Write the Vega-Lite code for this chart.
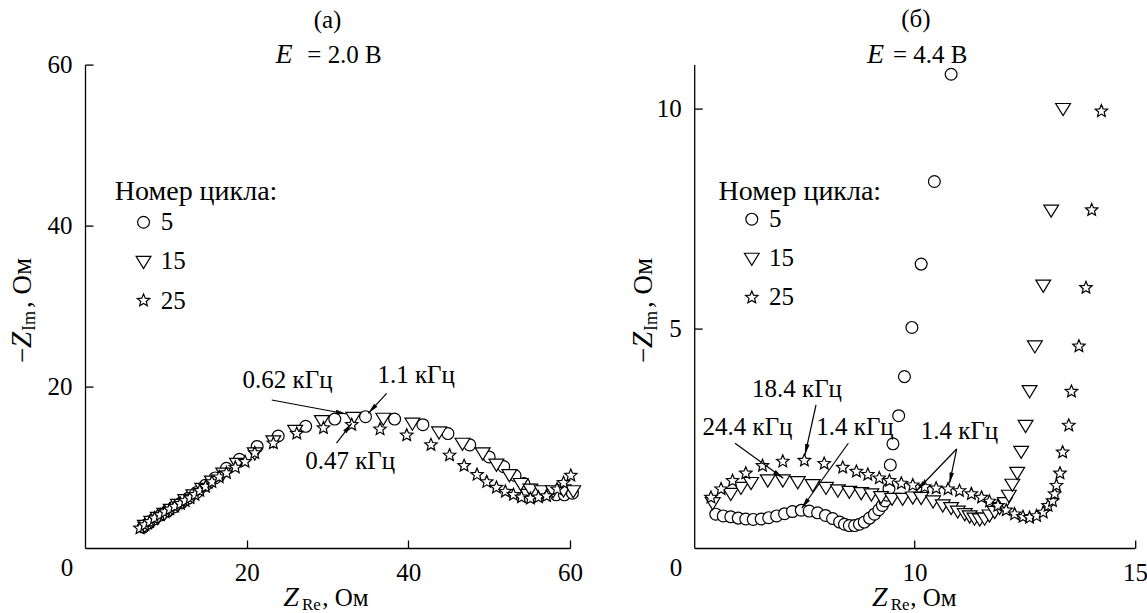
{
  "$schema": "https://vega.github.io/schema/vega-lite/v6.json",
  "autosize": {"type": "none"},
  "padding": {"left": 85, "top": 64.6, "right": 1062, "bottom": 548.4},
  "bounds": "flush",
  "spacing": 124.2,
  "config": {
    "view": {"stroke": null},
    "font": "Liberation Serif",
    "text": {"fontSize": 25, "color": "black", "font": "Liberation Serif"},
    "point": {"filled": true, "fill": "white", "stroke": "black", "strokeWidth": 1.2, "opacity": 1, "size": 140},
    "axis": {"domainColor": "black", "domainWidth": 1.3, "tickColor": "black", "tickWidth": 1.3, "tickSize": -8, "labelFontSize": 25, "labelColor": "black", "labelPadding": 21, "grid": false, "labelFont": "Liberation Serif", "labelFlush": false, "labelOverlap": false, "title": null}
  },
  "resolve": {"scale": {"shape": "independent"}},
  "datasets": {
    "a": [
      {"c":"5","x":7.2,"y":2.6},{"c":"5","x":7.9,"y":3.1},{"c":"5","x":8.6,"y":3.6},{"c":"5","x":9.4,"y":4.1},{"c":"5","x":10.2,"y":4.6},{"c":"5","x":11.0,"y":5.1},{"c":"5","x":11.9,"y":5.6},{"c":"5","x":12.8,"y":6.2},{"c":"5","x":13.8,"y":6.9},{"c":"5","x":14.9,"y":7.8},{"c":"5","x":16.1,"y":8.7},{"c":"5","x":17.5,"y":9.9},{"c":"5","x":19.1,"y":11.0},{"c":"5","x":21.3,"y":12.6},{"c":"5","x":23.9,"y":13.9},{"c":"5","x":27.3,"y":15.1},{"c":"5","x":30.9,"y":16.0},{"c":"5","x":34.7,"y":16.3},{"c":"5","x":38.3,"y":16.0},{"c":"5","x":41.8,"y":15.3},{"c":"5","x":44.9,"y":14.2},{"c":"5","x":47.6,"y":12.8},{"c":"5","x":50.0,"y":11.3},{"c":"5","x":51.8,"y":10.1},{"c":"5","x":53.2,"y":9.0},{"c":"5","x":54.3,"y":8.0},{"c":"5","x":55.5,"y":7.2},{"c":"5","x":56.9,"y":6.8},{"c":"5","x":58.3,"y":6.6},{"c":"5","x":59.3,"y":6.6},{"c":"5","x":60.3,"y":6.8},
      {"c":"15","x":7.4,"y":2.8},{"c":"15","x":8.2,"y":3.3},{"c":"15","x":9.0,"y":3.8},{"c":"15","x":9.8,"y":4.3},{"c":"15","x":10.6,"y":4.8},{"c":"15","x":11.5,"y":5.4},{"c":"15","x":12.4,"y":6.0},{"c":"15","x":13.4,"y":6.6},{"c":"15","x":14.5,"y":7.4},{"c":"15","x":15.7,"y":8.3},{"c":"15","x":17.1,"y":9.3},{"c":"15","x":18.8,"y":10.5},{"c":"15","x":21.0,"y":11.8},{"c":"15","x":23.3,"y":13.3},{"c":"15","x":26.0,"y":14.6},{"c":"15","x":29.3,"y":15.8},{"c":"15","x":33.2,"y":16.2},{"c":"15","x":36.9,"y":16.1},{"c":"15","x":40.5,"y":15.5},{"c":"15","x":43.8,"y":14.4},{"c":"15","x":46.7,"y":13.0},{"c":"15","x":49.2,"y":11.8},{"c":"15","x":50.9,"y":10.4},{"c":"15","x":52.5,"y":9.1},{"c":"15","x":53.9,"y":8.0},{"c":"15","x":55.1,"y":7.3},{"c":"15","x":56.5,"y":7.1},{"c":"15","x":57.9,"y":7.1},{"c":"15","x":59.2,"y":7.2},{"c":"15","x":60.4,"y":7.1},
      {"c":"25","x":6.8,"y":2.45},{"c":"25","x":7.4,"y":2.85},{"c":"25","x":8.0,"y":3.25},{"c":"25","x":8.6,"y":3.7},{"c":"25","x":9.3,"y":4.1},{"c":"25","x":9.9,"y":4.45},{"c":"25","x":10.5,"y":4.8},{"c":"25","x":11.1,"y":5.15},{"c":"25","x":11.8,"y":5.5},{"c":"25","x":12.4,"y":5.85},{"c":"25","x":13.0,"y":6.2},{"c":"25","x":13.6,"y":6.6},{"c":"25","x":14.2,"y":7.1},{"c":"25","x":14.9,"y":7.6},{"c":"25","x":15.7,"y":8.2},{"c":"25","x":16.6,"y":8.8},{"c":"25","x":17.5,"y":9.3},{"c":"25","x":18.6,"y":10.0},{"c":"25","x":19.8,"y":10.7},{"c":"25","x":21.0,"y":11.8},{"c":"25","x":23.3,"y":13.0},{"c":"25","x":26.2,"y":14.2},{"c":"25","x":29.5,"y":14.9},{"c":"25","x":33.0,"y":15.3},{"c":"25","x":36.5,"y":14.75},{"c":"25","x":39.8,"y":14.0},{"c":"25","x":42.8,"y":12.8},{"c":"25","x":45.1,"y":11.5},{"c":"25","x":46.9,"y":10.2},{"c":"25","x":48.5,"y":9.1},{"c":"25","x":49.7,"y":8.2},{"c":"25","x":50.9,"y":7.5},{"c":"25","x":52.0,"y":7.0},{"c":"25","x":53.0,"y":6.6},{"c":"25","x":54.0,"y":6.3},{"c":"25","x":55.1,"y":6.15},{"c":"25","x":56.1,"y":6.3},{"c":"25","x":57.1,"y":6.45},{"c":"25","x":58.4,"y":7.3},{"c":"25","x":59.2,"y":8.1},{"c":"25","x":60.1,"y":9.0}
    ],
    "b": [
      {"c":"5","x":5.49,"y":0.77},{"c":"5","x":5.66,"y":0.73},{"c":"5","x":5.83,"y":0.71},{"c":"5","x":6.0,"y":0.68},{"c":"5","x":6.17,"y":0.66},{"c":"5","x":6.34,"y":0.65},{"c":"5","x":6.52,"y":0.66},{"c":"5","x":6.69,"y":0.69},{"c":"5","x":6.87,"y":0.73},{"c":"5","x":7.05,"y":0.78},{"c":"5","x":7.23,"y":0.83},{"c":"5","x":7.43,"y":0.86},{"c":"5","x":7.61,"y":0.84},{"c":"5","x":7.8,"y":0.8},{"c":"5","x":7.98,"y":0.74},{"c":"5","x":8.14,"y":0.67},{"c":"5","x":8.3,"y":0.59},{"c":"5","x":8.41,"y":0.54},{"c":"5","x":8.52,"y":0.51},{"c":"5","x":8.64,"y":0.51},{"c":"5","x":8.75,"y":0.54},{"c":"5","x":8.86,"y":0.59},{"c":"5","x":8.98,"y":0.68},{"c":"5","x":9.09,"y":0.77},{"c":"5","x":9.19,"y":0.87},{"c":"5","x":9.27,"y":0.97},{"c":"5","x":9.33,"y":1.07},{"c":"5","x":9.38,"y":1.2},{"c":"5","x":9.42,"y":1.35},{"c":"5","x":9.45,"y":1.89},{"c":"5","x":9.51,"y":2.37},{"c":"5","x":9.64,"y":3.01},{"c":"5","x":9.77,"y":3.9},{"c":"5","x":9.94,"y":5.02},{"c":"5","x":10.15,"y":6.46},{"c":"5","x":10.45,"y":8.34},{"c":"5","x":10.83,"y":10.78},
      {"c":"15","x":5.42,"y":1.03},{"c":"15","x":5.83,"y":1.24},{"c":"15","x":6.06,"y":1.38},{"c":"15","x":6.29,"y":1.49},{"c":"15","x":6.67,"y":1.55},{"c":"15","x":7.01,"y":1.55},{"c":"15","x":7.35,"y":1.51},{"c":"15","x":7.69,"y":1.44},{"c":"15","x":7.99,"y":1.38},{"c":"15","x":8.26,"y":1.32},{"c":"15","x":8.52,"y":1.29},{"c":"15","x":8.79,"y":1.26},{"c":"15","x":9.02,"y":1.23},{"c":"15","x":9.24,"y":1.17},{"c":"15","x":9.49,"y":1.13},{"c":"15","x":9.73,"y":1.13},{"c":"15","x":9.96,"y":1.16},{"c":"15","x":10.15,"y":1.15},{"c":"15","x":10.42,"y":1.07},{"c":"15","x":10.64,"y":0.98},{"c":"15","x":10.83,"y":0.92},{"c":"15","x":10.98,"y":0.84},{"c":"15","x":11.14,"y":0.78},{"c":"15","x":11.25,"y":0.73},{"c":"15","x":11.36,"y":0.68},{"c":"15","x":11.48,"y":0.66},{"c":"15","x":11.59,"y":0.68},{"c":"15","x":11.7,"y":0.75},{"c":"15","x":11.82,"y":0.83},{"c":"15","x":11.93,"y":0.92},{"c":"15","x":12.05,"y":1.03},{"c":"15","x":12.14,"y":1.2},{"c":"15","x":12.22,"y":1.45},{"c":"15","x":12.33,"y":1.72},{"c":"15","x":12.42,"y":2.2},{"c":"15","x":12.52,"y":2.79},{"c":"15","x":12.61,"y":3.58},{"c":"15","x":12.73,"y":4.6},{"c":"15","x":12.92,"y":5.98},{"c":"15","x":13.1,"y":7.69},{"c":"15","x":13.37,"y":10.0},
      {"c":"25","x":5.38,"y":1.15},{"c":"25","x":5.61,"y":1.34},{"c":"25","x":5.87,"y":1.53},{"c":"25","x":6.17,"y":1.7},{"c":"25","x":6.55,"y":1.87},{"c":"25","x":7.01,"y":1.97},{"c":"25","x":7.5,"y":1.99},{"c":"25","x":7.95,"y":1.92},{"c":"25","x":8.37,"y":1.83},{"c":"25","x":8.68,"y":1.74},{"c":"25","x":8.94,"y":1.67},{"c":"25","x":9.2,"y":1.59},{"c":"25","x":9.43,"y":1.53},{"c":"25","x":9.7,"y":1.47},{"c":"25","x":9.96,"y":1.43},{"c":"25","x":10.23,"y":1.39},{"c":"25","x":10.49,"y":1.36},{"c":"25","x":10.76,"y":1.34},{"c":"25","x":11.02,"y":1.3},{"c":"25","x":11.29,"y":1.23},{"c":"25","x":11.52,"y":1.15},{"c":"25","x":11.7,"y":1.06},{"c":"25","x":11.89,"y":0.96},{"c":"25","x":12.08,"y":0.86},{"c":"25","x":12.27,"y":0.77},{"c":"25","x":12.46,"y":0.71},{"c":"25","x":12.61,"y":0.69},{"c":"25","x":12.77,"y":0.73},{"c":"25","x":12.92,"y":0.81},{"c":"25","x":13.03,"y":0.96},{"c":"25","x":13.13,"y":1.07},{"c":"25","x":13.18,"y":1.23},{"c":"25","x":13.22,"y":1.42},{"c":"25","x":13.3,"y":1.7},{"c":"25","x":13.36,"y":2.18},{"c":"25","x":13.5,"y":2.79},{"c":"25","x":13.56,"y":3.56},{"c":"25","x":13.73,"y":4.59},{"c":"25","x":13.89,"y":5.92},{"c":"25","x":14.02,"y":7.69},{"c":"25","x":14.24,"y":9.94}
    ]
  },
  "hconcat": [
    {
      "width": 485,
      "height": 483.4,
      "encoding": {
        "x": {"field": "x", "type": "quantitative", "scale": {"domain": [0, 60], "nice": false, "zero": false}, "axis": {"values": [20, 40, 60]}},
        "y": {"field": "y", "type": "quantitative", "scale": {"domain": [0, 60], "nice": false, "zero": false}, "axis": {"values": [20, 40, 60]}}
      },
      "layer": [
        {
          "data": {"name": "a"},
          "mark": {"type": "point"},
          "encoding": {
            "shape": {"field": "c", "type": "nominal", "sort": null, "legend": null,
              "scale": {"domain": ["5", "15", "25"], "range": ["circle", "M-1.25,-0.85L1.25,-0.85L0,1.2Z", "M0,-1.1L0.291,-0.4005L1.0462,-0.3399L0.4708,0.1529L0.6466,0.8899L0,0.495L-0.6466,0.8899L-0.4708,0.1529L-1.0462,-0.3399L-0.291,-0.4005Z"]}}
          }
        },
        {
          "data": {"values": [{"c": "5", "x": 7.24, "y": 40.43}, {"c": "15", "x": 7.24, "y": 35.57}, {"c": "25", "x": 7.24, "y": 30.71}]},
          "mark": {"type": "point"},
          "encoding": {
            "shape": {"field": "c", "type": "nominal", "sort": null, "legend": null,
              "scale": {"domain": ["5", "15", "25"], "range": ["circle", "M-1.25,-0.85L1.25,-0.85L0,1.2Z", "M0,-1.1L0.291,-0.4005L1.0462,-0.3399L0.4708,0.1529L0.6466,0.8899L0,0.495L-0.6466,0.8899L-0.4708,0.1529L-1.0462,-0.3399L-0.291,-0.4005Z"]}}
          }
        },
        {
          "data": {"values": [{"t": "5", "x": 9.37, "y": 40.43}, {"t": "15", "x": 9.37, "y": 35.57}, {"t": "25", "x": 9.37, "y": 30.71}]},
          "mark": {"type": "text", "align": "left", "baseline": "middle", "fontSize": 25},
          "encoding": {"text": {"field": "t"}}
        },
        {
          "data": {"values": [{"t": "Номер цикла:", "x": 3.69, "y": 44.21}]},
          "mark": {"type": "text", "align": "left", "baseline": "middle", "fontSize": 28},
          "encoding": {"text": {"field": "t"}}
        },
        {
          "data": {"values": [
            {"x": 32.37, "y": 16.63, "x2": 23.1, "y2": 18.37, "a": 100.6},
            {"x": 35.05, "y": 16.72, "x2": 37.32, "y2": 19.2, "a": 222.6},
            {"x": 32.99, "y": 15.48, "x2": 31.11, "y2": 13.03, "a": 37.7}
          ]},
          "layer": [
            {"mark": {"type": "rule", "color": "black", "strokeWidth": 1.2}, "encoding": {"x2": {"field": "x2"}, "y2": {"field": "y2"}}},
            {"mark": {"type": "point", "shape": "M0,0L-0.45,2.2L0.45,2.2Z", "size": 100, "filled": true, "fill": "black", "stroke": null, "strokeWidth": 0, "opacity": 1}, "encoding": {"angle": {"field": "a", "type": "quantitative", "scale": null}}}
          ]
        },
        {
          "data": {"values": [
            {"t": "(a)", "x": 30, "y": 65.58},
            {"t": "0.62 кГц", "x": 25.06, "y": 20.85},
            {"t": "1.1 кГц", "x": 40.97, "y": 21.47},
            {"t": "0.47 кГц", "x": 32.8, "y": 10.8},
            {"t": "0", "x": -2.23, "y": -2.48}
          ]},
          "mark": {"type": "text", "align": "center", "baseline": "middle", "fontSize": 25},
          "encoding": {"text": {"field": "t"}}
        },
        {
          "data": {"values": [{"t": "E", "x": 23.57, "y": 60.2}, {"t": "Z", "x": 24.52, "y": -7.25}]},
          "mark": {"type": "text", "align": "left", "baseline": "alphabetic", "fontSize": 28, "fontStyle": "italic"},
          "encoding": {"text": {"field": "t"}}
        },
        {
          "data": {"values": [{"t": "= 2.0 В", "x": 27.5, "y": 60.2}, {"t": ", Ом", "x": 29.35, "y": -7.25}]},
          "mark": {"type": "text", "align": "left", "baseline": "alphabetic", "fontSize": 25},
          "encoding": {"text": {"field": "t"}}
        },
        {
          "data": {"values": [{"t": "Re", "x": 26.85, "y": -7.7}]},
          "mark": {"type": "text", "align": "left", "baseline": "alphabetic", "fontSize": 17},
          "encoding": {"text": {"field": "t"}}
        },
        {
          "data": {"values": [{"t": "−", "x": -6.74, "y": 22.96}, {"t": ", Ом", "x": -6.74, "y": 29.79}]},
          "mark": {"type": "text", "align": "left", "baseline": "alphabetic", "fontSize": 27, "angle": 270},
          "encoding": {"text": {"field": "t"}}
        },
        {
          "data": {"values": [{"t": "Z", "x": -6.74, "y": 24.83}]},
          "mark": {"type": "text", "align": "left", "baseline": "alphabetic", "fontSize": 29, "angle": 270, "fontStyle": "italic"},
          "encoding": {"text": {"field": "t"}}
        },
        {
          "data": {"values": [{"t": "Im", "x": -6.19, "y": 26.93}]},
          "mark": {"type": "text", "align": "left", "baseline": "alphabetic", "fontSize": 18, "angle": 270},
          "encoding": {"text": {"field": "t"}}
        }
      ]
    },
    {
      "width": 440.7,
      "height": 483.4,
      "encoding": {
        "x": {"field": "x", "type": "quantitative", "scale": {"domain": [5, 15], "nice": false, "zero": false}, "axis": {"values": [10, 15]}},
        "y": {"field": "y", "type": "quantitative", "scale": {"domain": [0, 11], "nice": false, "zero": false}, "axis": {"values": [5, 10]}}
      },
      "layer": [
        {
          "data": {"name": "b"},
          "mark": {"type": "point"},
          "encoding": {
            "shape": {"field": "c", "type": "nominal", "sort": null, "legend": null,
              "scale": {"domain": ["5", "15", "25"], "range": ["circle", "M-1.25,-0.85L1.25,-0.85L0,1.2Z", "M0,-1.1L0.291,-0.4005L1.0462,-0.3399L0.4708,0.1529L0.6466,0.8899L0,0.495L-0.6466,0.8899L-0.4708,0.1529L-1.0462,-0.3399L-0.291,-0.4005Z"]}}
          }
        },
        {
          "data": {"values": [{"c": "5", "x": 6.307, "y": 7.483}, {"c": "15", "x": 6.307, "y": 6.593}, {"c": "25", "x": 6.307, "y": 5.701}]},
          "mark": {"type": "point"},
          "encoding": {
            "shape": {"field": "c", "type": "nominal", "sort": null, "legend": null,
              "scale": {"domain": ["5", "15", "25"], "range": ["circle", "M-1.25,-0.85L1.25,-0.85L0,1.2Z", "M0,-1.1L0.291,-0.4005L1.0462,-0.3399L0.4708,0.1529L0.6466,0.8899L0,0.495L-0.6466,0.8899L-0.4708,0.1529L-1.0462,-0.3399L-0.291,-0.4005Z"]}}
          }
        },
        {
          "data": {"values": [{"t": "5", "x": 6.697, "y": 7.483}, {"t": "15", "x": 6.697, "y": 6.593}, {"t": "25", "x": 6.697, "y": 5.701}]},
          "mark": {"type": "text", "align": "left", "baseline": "middle", "fontSize": 25},
          "encoding": {"text": {"field": "t"}}
        },
        {
          "data": {"values": [{"t": "Номер цикла:", "x": 5.554, "y": 8.106}]},
          "mark": {"type": "text", "align": "left", "baseline": "middle", "fontSize": 28},
          "encoding": {"text": {"field": "t"}}
        },
        {
          "data": {"values": [
            {"x": 7.514, "y": 2.117, "x2": 7.764, "y2": 3.254, "a": 192.4},
            {"x": 7.022, "y": 1.586, "x2": 5.926, "y2": 2.383, "a": 125.9},
            {"x": 7.439, "y": 0.904, "x2": 8.497, "y2": 2.383, "a": 215.6},
            {"x": 10.049, "y": 1.309, "x2": 10.956, "y2": 2.253, "a": 223.9},
            {"x": 10.793, "y": 1.468, "x2": 10.956, "y2": 2.253, "a": 191.8}
          ]},
          "layer": [
            {"mark": {"type": "rule", "color": "black", "strokeWidth": 1.2}, "encoding": {"x2": {"field": "x2"}, "y2": {"field": "y2"}}},
            {"mark": {"type": "point", "shape": "M0,0L-0.45,2.2L0.45,2.2Z", "size": 100, "filled": true, "fill": "black", "stroke": null, "strokeWidth": 0, "opacity": 1}, "encoding": {"angle": {"field": "a", "type": "quantitative", "scale": null}}}
          ]
        },
        {
          "data": {"values": [
            {"t": "(б)", "x": 10.03, "y": 12.03},
            {"t": "18.4 кГц", "x": 7.333, "y": 3.609},
            {"t": "24.4 кГц", "x": 6.209, "y": 2.761},
            {"t": "1.4 кГц", "x": 8.649, "y": 2.761},
            {"t": "1.4 кГц", "x": 11.02, "y": 2.663},
            {"t": "0", "x": 4.587, "y": -0.455}
          ]},
          "mark": {"type": "text", "align": "center", "baseline": "middle", "fontSize": 25},
          "encoding": {"text": {"field": "t"}}
        },
        {
          "data": {"values": [{"t": "E", "x": 8.921, "y": 11.04}, {"t": "Z", "x": 9.034, "y": -1.33}]},
          "mark": {"type": "text", "align": "left", "baseline": "alphabetic", "fontSize": 28, "fontStyle": "italic"},
          "encoding": {"text": {"field": "t"}}
        },
        {
          "data": {"values": [{"t": "= 4.4 В", "x": 9.511, "y": 11.04}, {"t": ", Ом", "x": 9.9, "y": -1.33}]},
          "mark": {"type": "text", "align": "left", "baseline": "alphabetic", "fontSize": 25},
          "encoding": {"text": {"field": "t"}}
        },
        {
          "data": {"values": [{"t": "Re", "x": 9.46, "y": -1.41}]},
          "mark": {"type": "text", "align": "left", "baseline": "alphabetic", "fontSize": 17},
          "encoding": {"text": {"field": "t"}}
        },
        {
          "data": {"values": [{"t": "−", "x": 4.042, "y": 4.21}, {"t": ", Ом", "x": 4.042, "y": 5.46}]},
          "mark": {"type": "text", "align": "left", "baseline": "alphabetic", "fontSize": 27, "angle": 270},
          "encoding": {"text": {"field": "t"}}
        },
        {
          "data": {"values": [{"t": "Z", "x": 4.042, "y": 4.55}]},
          "mark": {"type": "text", "align": "left", "baseline": "alphabetic", "fontSize": 29, "angle": 270, "fontStyle": "italic"},
          "encoding": {"text": {"field": "t"}}
        },
        {
          "data": {"values": [{"t": "Im", "x": 4.145, "y": 4.94}]},
          "mark": {"type": "text", "align": "left", "baseline": "alphabetic", "fontSize": 18, "angle": 270},
          "encoding": {"text": {"field": "t"}}
        }
      ]
    }
  ]
}
